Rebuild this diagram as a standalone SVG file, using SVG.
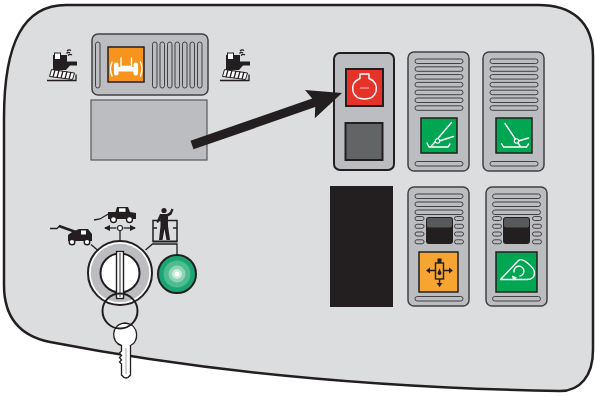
<svg xmlns="http://www.w3.org/2000/svg" width="595" height="396" viewBox="0 0 595 396">
  <style>
    .panel { fill: #dcddde; stroke: #231f20; stroke-width: 2.5; }
    .housing { fill: #bcbdc0; stroke: #414042; stroke-width: 1.5; }
    .slot { fill: #bcbdc0; stroke: #414042; stroke-width: 1; }
    .btn { stroke: #231f20; stroke-width: 1.5; }
    .ink { fill: #231f20; }
    .wline { fill: none; stroke: #ffffff; stroke-width: 1.4; stroke-linecap: round; stroke-linejoin: round; }
    .kline { fill: none; stroke: #231f20; stroke-width: 1.3; }
    .wheel { fill: #ffffff; stroke: #231f20; stroke-width: 1.4; }
  </style>
  <defs>
    <rect id="hslot" width="48" height="4.5" rx="2.25" class="slot"/>
    <rect id="sslot" width="9" height="4" rx="2" class="slot"/>
    <rect id="vslot" width="4.5" height="46" rx="2.25" class="slot"/>
    <marker id="tip" viewBox="0 0 6 6" refX="5" refY="3" markerWidth="5" markerHeight="5" orient="auto-start-reverse">
      <path d="M0,0 L6,3 L0,6 Z" fill="#231f20"/>
    </marker>
    <!-- compactor machine pictogram -->
    <g id="machine">
      <path d="M47,80.5 H76 V74.5" class="kline" stroke-width="1"/>
      <polygon points="49.5,76.5 51.5,69.5 74.5,73 72.5,79.5" fill="#ffffff" stroke="#231f20" stroke-width="1"/>
      <path d="M53,77 L55,70 M57,77.5 L59,70.5 M61,78 L63,71 M65,78.5 L67,71.5 M69,79 L71,72" class="kline" stroke-width="0.8"/>
      <path d="M53,55 H67 V61.5 H77 V65.5 H70 L66,70 H53 Z" class="ink"/>
      <rect x="54.5" y="53" width="6" height="6.5" fill="#ffffff" stroke="#231f20" stroke-width="1"/>
      <path d="M66.5,53.5 Q68,51.5 70,53 M68,55.5 Q70,53.5 72,55 M67,51 Q69,49 71,50.5" class="kline" stroke-width="1"/>
    </g>
  </defs>

  <!-- dashboard outline -->
  <path class="panel" d="M4,118 C4,42 24,5 66,5 L538,5 C572,5 593,22 593,56 L593,350 C593,376 580,391 560,391 Q277,386 50,342 C20,336 4,318 4,285 Z"/>

  <!-- travel mode selector -->
  <g id="travel-selector">
    <use href="#machine"/>
    <use href="#machine" x="173"/>
    <rect x="92" y="34" width="116" height="61" rx="6" class="housing"/>
    <use href="#vslot" x="95.5" y="42"/>
    <use href="#vslot" x="152.5" y="42"/>
    <use href="#vslot" x="160" y="42"/>
    <use href="#vslot" x="167.5" y="42"/>
    <use href="#vslot" x="175" y="42"/>
    <use href="#vslot" x="182.5" y="42"/>
    <use href="#vslot" x="190" y="42"/>
    <use href="#vslot" x="197.5" y="42"/>
    <rect x="108" y="47" width="36" height="35" fill="#f7941d" class="btn"/>
    <path d="M121,58 V66.5 H131.5 V58" class="wline" stroke-width="1.2"/>
    <rect x="118" y="67" width="16" height="4.5" fill="#ffffff"/>
    <rect x="114" y="62.5" width="4.5" height="13" rx="2" fill="#ffffff"/>
    <rect x="133.5" y="62.5" width="4.5" height="13" rx="2" fill="#ffffff"/>
    <path d="M112,62 Q109,69 112,76 M140.5,62 Q143.5,69 140.5,76" class="wline" stroke-width="1.1"/>
  </g>

  <!-- blank plate -->
  <g id="blank-plate">
    <rect x="91" y="100" width="116" height="60" fill="#bcbdc0" stroke="#58595b" stroke-width="1.2"/>
  </g>

  <!-- engine error module -->
  <g id="error-module">
    <rect x="334" y="53" width="60" height="117" rx="6" fill="#bcbdc0" stroke="#231f20" stroke-width="2"/>
    <rect x="346" y="69" width="37" height="37" fill="#e5332a" stroke="#231f20" stroke-width="2"/>
    <path d="M360,74 H369 V78.5 C375,80.5 377.5,86 376,91.5 C374.5,96.5 370,99 364.5,99 C359,99 354.5,96.5 353,91.5 C351.5,86 354,80.5 360,78.5 Z" class="wline" stroke-width="1.2"/>
    <line x1="360" y1="88" x2="369" y2="88" stroke="#ffffff" stroke-width="1" opacity="0.7"/>
    <rect x="345.5" y="123" width="37" height="37" fill="#636466" stroke="#231f20" stroke-width="2"/>
  </g>

  <!-- boom raise switch -->
  <g id="boom-up">
    <rect x="408" y="52" width="61" height="119" rx="6" class="housing"/>
    <use href="#hslot" x="415" y="59"/>
    <use href="#hslot" x="415" y="66.8"/>
    <use href="#hslot" x="415" y="74.6"/>
    <use href="#hslot" x="415" y="82.4"/>
    <use href="#hslot" x="415" y="90.2"/>
    <use href="#hslot" x="415" y="98"/>
    <use href="#hslot" x="415" y="105.8"/>
    <rect x="421" y="118" width="36" height="35" fill="#00a651" class="btn"/>
    <path d="M431.5,146 L451.5,122.5 M437.5,141.5 L453.5,136.5 M427,143 L429,147 H448 L450,144" class="wline" stroke-width="1.2"/>
    <circle cx="437.5" cy="141" r="2.2" fill="#00a651" stroke="#ffffff" stroke-width="1.1"/>
    <use href="#hslot" x="415" y="161.5"/>
  </g>

  <!-- boom lower switch -->
  <g id="boom-down">
    <rect x="483" y="52" width="61" height="119" rx="6" class="housing"/>
    <use href="#hslot" x="490" y="59"/>
    <use href="#hslot" x="490" y="66.8"/>
    <use href="#hslot" x="490" y="74.6"/>
    <use href="#hslot" x="490" y="82.4"/>
    <use href="#hslot" x="490" y="90.2"/>
    <use href="#hslot" x="490" y="98"/>
    <use href="#hslot" x="490" y="105.8"/>
    <rect x="496" y="118" width="36" height="35" fill="#00a651" class="btn"/>
    <path d="M505,123.5 L520,146 M516.5,141.5 L528.5,138 M501.5,143.5 L503.5,147 H526.5 L528.5,144" class="wline" stroke-width="1.2"/>
    <circle cx="516.5" cy="141" r="2.2" fill="#00a651" stroke="#ffffff" stroke-width="1.1"/>
    <use href="#hslot" x="490" y="161.5"/>
  </g>

  <!-- display screen -->
  <g id="display">
    <rect x="330" y="186" width="63" height="121" fill="#231f20"/>
  </g>

  <!-- frame levelling switch -->
  <g id="levelling">
    <rect x="408" y="187" width="61" height="119" rx="6" class="housing"/>
    <use href="#hslot" x="415" y="194"/>
    <use href="#hslot" x="415" y="202"/>
    <use href="#hslot" x="415" y="210"/>
    <use href="#sslot" x="415" y="216.5"/>
    <use href="#sslot" x="415" y="224.3"/>
    <use href="#sslot" x="415" y="232"/>
    <use href="#sslot" x="415" y="239.8"/>
    <use href="#sslot" x="454.5" y="216.5"/>
    <use href="#sslot" x="454.5" y="224.3"/>
    <use href="#sslot" x="454.5" y="232"/>
    <use href="#sslot" x="454.5" y="239.8"/>
    <rect x="426" y="217" width="27" height="27" rx="3" fill="#231f20"/>
    <rect x="427" y="218" width="25" height="9.5" rx="2" fill="#58595b"/>
    <rect x="419" y="252" width="39" height="40" fill="#f7a532" class="btn"/>
    <rect x="437.5" y="258.5" width="4" height="4.5" class="ink"/>
    <rect x="435.5" y="263" width="8" height="16" fill="#f7a532" stroke="#231f20" stroke-width="1.4"/>
    <path d="M439.5,268.5 L441.5,273 A2,2 0 1 1 437.5,273 Z" class="ink"/>
    <path d="M429.5,270.5 H435.5 M443.5,270.5 H449.5 M439.5,279 V283" fill="none" stroke="#231f20" stroke-width="1.5"/>
    <path d="M426,270.5 L430,267.5 V273.5 Z M453,270.5 L449,267.5 V273.5 Z M439.5,287 L436.5,283 H442.5 Z" class="ink"/>
    <use href="#hslot" x="415" y="296.5"/>
  </g>

  <!-- drive / speed switch -->
  <g id="drive-mode">
    <rect x="486" y="187" width="61" height="119" rx="6" class="housing"/>
    <use href="#hslot" x="492.5" y="194"/>
    <use href="#hslot" x="492.5" y="202"/>
    <use href="#hslot" x="492.5" y="210"/>
    <use href="#sslot" x="492.5" y="216.5"/>
    <use href="#sslot" x="492.5" y="224.3"/>
    <use href="#sslot" x="492.5" y="232"/>
    <use href="#sslot" x="492.5" y="239.8"/>
    <use href="#sslot" x="532.5" y="216.5"/>
    <use href="#sslot" x="532.5" y="224.3"/>
    <use href="#sslot" x="532.5" y="232"/>
    <use href="#sslot" x="532.5" y="239.8"/>
    <rect x="503" y="217" width="27" height="27" rx="3" fill="#231f20"/>
    <rect x="504" y="218" width="25" height="9.5" rx="2" fill="#58595b"/>
    <rect x="496" y="252" width="41" height="40" fill="#00a651" class="btn"/>
    <path d="M500.5,279.5 L518.5,260.5 C522,257 534.5,267 534.5,273 C534.5,277.5 531,279.5 527,279.5 Z" class="wline" stroke-width="2.2"/>
    <path d="M514,272 A5,5 0 1 1 520,276" class="wline" stroke-width="1.4"/>
    <path d="M512,275.5 L517,277.5 L513,280.5 Z" fill="#ffffff"/>
    <use href="#hslot" x="492.5" y="296.5"/>
  </g>

  <!-- key switch mode pictograms -->
  <g id="telehandler-icon">
    <path d="M50,228.5 H57 L60,225.5" class="kline" stroke-width="1"/>
    <line x1="59" y1="226" x2="80" y2="233.5" stroke="#231f20" stroke-width="2.6"/>
    <path d="M72,232 L79,229 H88 L92,234 V241 H68 V235 Z" class="ink"/>
    <rect x="81" y="230.5" width="5" height="4" fill="#ffffff"/>
    <circle cx="72" cy="242" r="2.8" class="wheel"/>
    <circle cx="87" cy="242" r="2.8" class="wheel"/>
  </g>
  <g id="truck-icon">
    <path d="M94,220 L100,219 L110,213" class="kline" stroke-width="1"/>
    <path d="M108,212 H115.5 L117,207 H128 L130,212 L136,213 V219 H108 Z" class="ink"/>
    <rect x="119" y="208.3" width="6.5" height="3.5" fill="#ffffff"/>
    <circle cx="113.5" cy="219.5" r="3" class="wheel"/>
    <circle cx="129.5" cy="219.5" r="3" class="wheel"/>
  </g>
  <g id="platform-icon">
    <path d="M153,241.5 V220.5 H177 V241.5 M153,228 H157 M173,228 H177" fill="none" stroke="#231f20" stroke-width="1.5"/>
    <line x1="152.5" y1="241.5" x2="177.5" y2="241.5" stroke="#231f20" stroke-width="2"/>
    <circle cx="164" cy="210.5" r="2.6" class="ink"/>
    <path d="M160,214 H167 L170,212 L171.5,208.5 L173.5,209.5 L171.5,214.5 L168,216.5 V226 L170,240 H166.5 L164.5,229 L162.5,240 H159 L160.5,226 V219 L158,223 L156.5,222 Z" class="ink"/>
  </g>

  <!-- ignition key switch -->
  <g id="key-switch">
    <circle cx="120" cy="273" r="32" fill="#ffffff" stroke="#231f20" stroke-width="2"/>
    <circle cx="120" cy="273" r="29.3" fill="#bcbdc0"/>
    <circle cx="120" cy="273" r="19.5" fill="#ffffff" stroke="#231f20" stroke-width="2"/>
    <rect x="116.5" y="251.5" width="7" height="47" fill="#ffffff" stroke="#231f20" stroke-width="1.4"/>
    <line x1="120" y1="253" x2="120" y2="297" stroke="#939598" stroke-width="2"/>
  </g>

  <!-- ignition key on its ring -->
  <g id="key">
    <path d="M121.5,345.5 C111,343 110,324 125,323 C140,324 139,343 130.5,345.5 V375 Q126,381 121.5,375 V364 L119.5,362 L121.5,360 L119.5,357.5 L121.5,355.5 L119.5,353 L121.5,351 Z" fill="#ffffff" stroke="#231f20" stroke-width="1.3"/>
    <line x1="126" y1="348" x2="126" y2="374" stroke="#939598" stroke-width="0.8"/>
    <circle cx="120" cy="311" r="17.5" fill="none" stroke="#231f20" stroke-width="2"/>
  </g>

  <!-- lamp -->
  <g id="lamp">
    <circle cx="177" cy="274" r="19" fill="#1ba572" stroke="#231f20" stroke-width="2"/>
    <circle cx="177" cy="274" r="13.5" fill="#4fbb90"/>
    <circle cx="177" cy="274" r="8.5" fill="#8ed3b3"/>
    <circle cx="177" cy="274" r="5" fill="#c8ebdb"/>
    <circle cx="177" cy="274" r="2.5" fill="#ffffff"/>
  </g>

  <g id="connectors">
    <path d="M120,241 V230.5" class="kline" stroke-width="1.3"/>
    <circle cx="120" cy="228" r="2.5" fill="#ffffff" stroke="#231f20" stroke-width="1.1"/>
    <path d="M116.5,228 H105" class="kline" stroke-width="1" marker-end="url(#tip)"/>
    <path d="M123.5,228 H135" class="kline" stroke-width="1" marker-end="url(#tip)"/>
    <path d="M98,250.5 L91,244.5" class="kline" stroke-width="1.3"/>
    <path d="M145.5,250 L152.5,244 H177 V255" class="kline" stroke-width="1.3"/>
    <polygon points="190.5,140.7 312.2,98.6 305,89.9 342,93 314.8,118.3 315.2,107.1 193.5,149.3" fill="#231f20"/>
  </g>
</svg>
